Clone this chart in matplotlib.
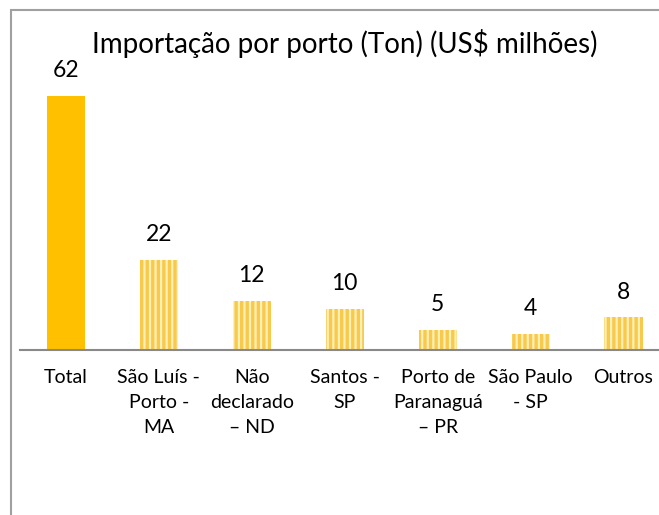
import matplotlib
matplotlib.use("Agg")
import matplotlib.pyplot as plt
from matplotlib.patches import Rectangle

categories = ["Total", "São Luís -\nPorto -\nMA", "Não\ndeclarado\n– ND", "Santos -\nSP",
              "Porto de\nParanaguá\n– PR", "São Paulo\n- SP", "Outros"]
values = [62, 22, 12, 10, 5, 4, 8]

plt.rcParams['font.family'] = ['Lato', 'DejaVu Sans']
plt.rcParams['hatch.linewidth'] = 2.4
plt.rcParams['hatch.color'] = '#F8C94A'

W, H = 659, 515
PXU = 4.1
fig = plt.figure(figsize=(W/100, H/100), dpi=100)
ax = fig.add_axes([19.5/W, (H-350)/H, 650.5/W, 300/H])

x = list(range(len(categories)))
for i, v in enumerate(values):
    if i == 0:
        ax.bar(i, v, width=0.41, color='#FFC000', edgecolor='none', zorder=2)
    else:
        ax.bar(i, v, width=0.41, color='#FFF0B8', edgecolor='#F8C94A', linewidth=0,
               hatch='|||', zorder=2)
    ax.text(i, v + 25/PXU, str(v), ha='center', va='center', fontsize=16.5, color='#000000')

ax.set_xlim(-0.5, 6.5)
ax.set_ylim(0, 300/PXU)
ax.set_xticks(x)
ax.set_xticklabels(categories, fontsize=14, linespacing=1.55)
ax.tick_params(axis='x', length=0, pad=14)
ax.set_yticks([])
for s in ['top', 'right', 'left']:
    ax.spines[s].set_visible(False)
ax.spines['bottom'].set_color('#898989')
ax.spines['bottom'].set_linewidth(1.5)

fig.text(345/W, 1 - 44/H, "Importação por porto (Ton) (US$ milhões)", ha='center', va='center',
         fontsize=20, color='#000000')

fig.patches.append(Rectangle((11/W, -0.1), 1.2, 1 - 10/H + 0.1, transform=fig.transFigure,
                             fill=False, edgecolor='#A0A0A0', linewidth=1.5))

fig.savefig("out.png", dpi=100)
